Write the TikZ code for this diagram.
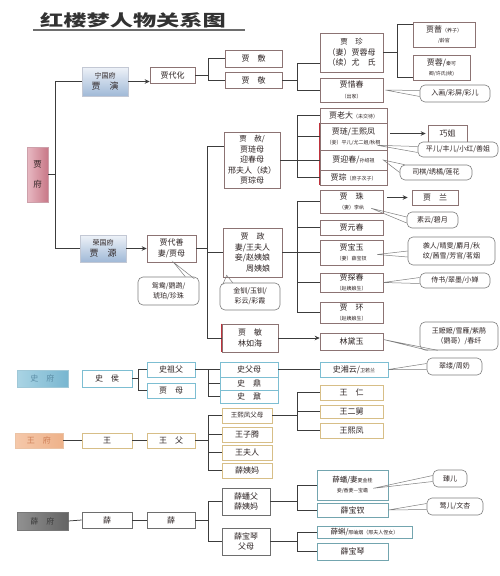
\documentclass[tikz,border=0pt]{standalone}
\usepackage{fontspec}
\setmainfont{Noto Sans CJK SC}
\usetikzlibrary{arrows.meta,calc,shadows}
\definecolor{ln}{RGB}{60,60,60}
\definecolor{jb}{RGB}{140,115,115}
\definecolor{sb}{RGB}{125,190,210}
\definecolor{wb}{RGB}{215,190,135}
\definecolor{xb}{RGB}{110,110,110}
\definecolor{xt}{RGB}{115,165,175}
\definecolor{cb}{RGB}{125,125,125}
\definecolor{tx}{RGB}{45,35,35}
\newcommand\BX[7]{\node[#6, minimum width={(#4)-(#2)}, minimum height={(#5)-(#3)}] (#1) at ({((#2)+(#4))/2},{((#3)+(#5))/2}) {#7};}
\newcommand\tinyt[1]{{\fontsize{5}{6}\selectfont #1}}
\tikzset{
  bx/.style={draw=jb, line width=0.6pt, fill=white, inner sep=0.5pt, align=center, text=tx, font=\fontsize{8}{10.5}\selectfont},
  sbox/.style={bx, draw=sb},
  wbox/.style={bx, draw=wb},
  xbox/.style={bx, draw=xb},
  tbox/.style={bx, draw=xt},
  fuN/.style={bx, draw={rgb,255:red,195;green,200;blue,212}, top color={rgb,255:red,238;green,242;blue,248}, bottom color={rgb,255:red,160;green,185;blue,215}, drop shadow={shadow xshift=1.2pt, shadow yshift=-1.2pt, fill=gray!45}},
  fuJ/.style={bx, draw={rgb,255:red,205;green,160;blue,170}, left color={rgb,255:red,232;green,185;blue,195}, middle color={rgb,255:red,246;green,226;blue,230}, right color={rgb,255:red,200;green,120;blue,135}, drop shadow={shadow xshift=1.2pt, shadow yshift=-1.2pt, fill=gray!45}},
  fuS/.style={bx, draw={rgb,255:red,160;green,200;blue,215}, left color={rgb,255:red,170;green,212;blue,228}, middle color={rgb,255:red,218;green,240;blue,247}, right color={rgb,255:red,120;green,182;blue,208}, text={rgb,255:red,90;green,140;blue,165}, drop shadow={shadow xshift=1pt, shadow yshift=-1pt, fill=gray!35}},
  fuW/.style={bx, draw={rgb,255:red,235;green,195;blue,165}, left color={rgb,255:red,245;green,200;blue,170}, middle color={rgb,255:red,253;green,236;blue,222}, right color={rgb,255:red,238;green,178;blue,138}, text={rgb,255:red,205;green,125;blue,85}, drop shadow={shadow xshift=1pt, shadow yshift=-1pt, fill=gray!35}},
  fuX/.style={bx, draw={rgb,255:red,120;green,120;blue,120}, left color={rgb,255:red,145;green,145;blue,145}, middle color={rgb,255:red,215;green,215;blue,215}, right color={rgb,255:red,100;green,100;blue,100}, text={rgb,255:red,60;green,60;blue,60}, drop shadow={shadow xshift=1pt, shadow yshift=-1pt, fill=gray!40}},
  callout/.style={draw=cb, line width=0.6pt, fill=white, rounded corners=5pt, inner sep=1pt, align=center, text=tx, font=\fontsize{7}{10}\selectfont},
  conn/.style={draw=ln, line width=0.75pt},
  arr/.style={conn, -{Stealth[length=5pt,width=4.5pt]}},
  tail/.style={draw=cb, line width=0.5pt},
  redge/.style={draw={rgb,255:red,190;green,50;blue,60}, line width=0.9pt}
}
\begin{document}
\begin{tikzpicture}[x=1pt,y=-1pt]
\fill[white] (0,0) rectangle (500,576);
\useasboundingbox (0,0) rectangle (500,576);

% title
\node[inner sep=0, text={rgb,255:red,50;green,50;blue,50}, font=\fontsize{16}{18}\selectfont\bfseries] (title) at (133,20) {\scalebox{1.45}[1]{红楼梦人物关系图}};
\coordinate (ul1) at (33,30);
\coordinate (ul2) at (245,30);
\draw[draw={rgb,255:red,110;green,110;blue,110}, line width=1.3pt] (ul1) -- (ul2);

% trunk coordinates
\coordinate (t1) at (55,0);
\coordinate (b1) at (208,0);
\coordinate (b2) at (297,0);
\coordinate (b3) at (397,0);
\coordinate (b4) at (207,0);
\coordinate (b7) at (138,0);

% ===== Jia =====
\BX{ng}{82}{67}{128}{96}{fuN}{{\fontsize{7}{10}\selectfont 宁国府}\\{\fontsize{9}{11}\selectfont 贾\quad 演}}
\BX{rg}{80}{235}{126}{262}{fuN}{{\fontsize{7}{10}\selectfont 荣国府}\\{\fontsize{9}{11}\selectfont 贾\quad 源}}
\BX{jf}{27}{147}{48}{202}{fuJ}{{\fontsize{8.5}{10}\selectfont 贾}\\[9pt]{\fontsize{8.5}{10}\selectfont 府}}

\BX{jdh}{150}{67}{195}{83}{bx}{贾代化}
\BX{jfu}{225}{50}{282}{67}{bx}{贾　敷}
\BX{jjing}{225}{72}{282}{88}{bx}{贾　敬}
\BX{jzhen}{320}{33}{383}{72}{bx}{\fontsize{7.5}{11.5}\selectfont 贾　珍\\（妻）贾蓉母\\（续）尤　氏}
\BX{jxc}{320}{78}{383}{102}{bx}{贾惜春\\\tinyt{（出家）}}
\BX{jqiang}{413}{22}{475}{47}{bx}{贾蔷\tinyt{（养子）}\\\tinyt{/龄官}}
\BX{jrong}{413}{55}{470}{80}{bx}{贾蓉/\tinyt{秦可}\\\tinyt{卿/许氏(续)}}

\BX{jds}{147}{235}{196}{262}{bx}{贾代善\\妻/贾母}
\BX{jshe}{224}{132}{280}{188}{bx}{\fontsize{7.5}{10.6}\selectfont 贾　赦/\\贾琏母\\迎春母\\邢夫人（续）\\贾琮母}
\BX{jld}{320}{108}{387}{123}{bx}{贾老大\tinyt{（未交待）}}
\BX{jlian}{320}{123}{387}{150}{bx}{贾琏/王熙凤\\\tinyt{（妾）平儿/尤二姐/秋桐}}
\BX{jyc}{320}{150}{387}{170}{bx}{贾迎春/\tinyt{孙绍祖}}
\BX{jcong}{320}{170}{387}{185}{bx}{贾琮\tinyt{（庶子次子）}}
\BX{qj}{428}{125}{467}{142}{bx}{巧姐}

\BX{jzheng}{223}{228}{282}{277}{bx}{\fontsize{8}{11}\selectfont 贾　政\\妻/王夫人\\妾/赵姨娘\\\hphantom{妾/}周姨娘}
\BX{jzhu}{320}{190}{383}{213}{bx}{贾　珠\\\tinyt{（妻）李纨}}
\BX{jlan}{412}{190}{458}{205}{bx}{贾　兰}
\BX{jyuan}{320}{220}{383}{235}{bx}{贾元春}
\BX{jbao}{320}{240}{383}{265}{bx}{贾宝玉\\\tinyt{（妻）薛宝钗}}
\BX{jtan}{320}{273}{383}{292}{bx}{贾探春\\\tinyt{（赵姨娘生）}}
\BX{jhuan}{320}{302}{383}{323}{bx}{贾　环\\\tinyt{（赵姨娘生）}}
\BX{jmin}{222}{324}{278}{352}{bx}{贾　敏\\林如海}
\BX{ldy}{320}{333}{383}{350}{bx}{林黛玉}

% red left edges
\draw[redge] (jlian.north west) -- (jcong.south west);
\draw[redge] (jmin.north west) -- (jmin.south west);

% Jia connectors
\draw[conn] (ng.west) -| (rg.west -| t1) -- (rg.west);
\draw[conn] (jf.east) -- (jf.east -| t1);
\draw[arr] (ng.east) -- (ng.east -| jdh.west);
\draw[arr] (rg.east) -- (jds.west);
\draw[conn] (jdh.east) -- (jdh.east -| b1);
\draw[conn] (jfu.west) -| (jjing.west -| b1) -- (jjing.west);
\draw[conn] (jjing.east) -- (jjing.east -| b2);
\draw[conn] ($(jzhen.south west)+(0,-9)$) -| (jxc.west -| b2) -- (jxc.west);
\draw[conn] (jzhen.east) -- (jzhen.east -| b3);
\draw[conn] ($(jqiang.north west)+(0,3)$) -| ($(jrong.south west -| b3)+(0,-3)$) -- ($(jrong.south west)+(0,-3)$);

\draw[conn] (jds.east) -- (jds.east -| b4);
\draw[conn] ($(jshe.north west)+(0,15)$) -| (jmin.west -| b4) -- (jmin.west);
\draw[conn] (jzheng.west) -- (jzheng.west -| b4);

\draw[conn] (jshe.east) -- (jshe.east -| b2);
\draw[conn] (jld.west) -| (jcong.west -| b2) -- (jcong.west);
\draw[conn] (jlian.west) -- (jlian.west -| b2);
\draw[conn] (jyc.west) -- (jyc.west -| b2);
\draw[arr] ($(jlian.east |- qj.west)+(3,0)$) -- ($(qj.west)+(-2,0)$);

\draw[conn] (jzheng.east) -- (jzheng.east -| b2);
\draw[conn] (jzhu.west) -| (jhuan.west -| b2) -- (jhuan.west);
\draw[conn] (jyuan.west) -- (jyuan.west -| b2);
\draw[conn] (jbao.west) -- (jbao.west -| b2);
\draw[conn] (jtan.west) -- (jtan.west -| b2);
\draw[arr] ($(jzhu.east |- jlan.west)+(4,0)$) -- ($(jlan.west)+(-4,0)$);
\draw[arr] (jmin.east) -- (jmin.east -| ldy.west);

% ===== Shi =====
\BX{sf}{17}{370}{68}{387}{fuS}{史　府}
\BX{shou}{82}{370}{132}{387}{sbox}{史　侯}
\BX{szf}{147}{362}{195}{377}{sbox}{史祖父}
\BX{jm}{147}{383}{195}{398}{sbox}{贾　母}
\BX{sfm}{220}{362}{278}{377}{sbox}{史父母}
\BX{sding}{220}{377}{278}{390}{sbox}{史　鼎}
\BX{snai}{220}{390}{278}{403}{sbox}{史　鼐}
\BX{sxy}{320}{362}{388}{377}{sbox}{史湘云/\tinyt{卫若兰}}

\draw[conn] (shou.east) -- (shou.east -| b7);
\draw[conn] (szf.west) -| (jm.west -| b7) -- (jm.west);
\draw[conn] (szf.east) -- (sfm.west);
\draw[conn] (szf.east -| b1) |- (snai.west);
\draw[conn] (sding.west) -- (sding.west -| b1);
\draw[conn] (sfm.east) -- (sxy.west);

% ===== Wang =====
\BX{wf}{15}{433}{63}{448}{fuW}{王　府}
\BX{wang}{82}{433}{132}{448}{wbox}{王}
\BX{wfu}{147}{433}{195}{448}{wbox}{王　父}
\BX{wxf}{222}{408}{272}{423}{wbox}{\fontsize{6.5}{8}\selectfont 王熙凤父母}
\BX{wzt}{222}{427}{272}{442}{wbox}{王子腾}
\BX{wfr}{222}{445}{272}{460}{wbox}{王夫人}
\BX{xym}{222}{463}{272}{478}{wbox}{薛姨妈}
\BX{wren}{320}{385}{383}{400}{wbox}{王　仁}
\BX{wej}{320}{405}{383}{418}{wbox}{王二舅}
\BX{wxfeng}{320}{423}{383}{438}{wbox}{王熙凤}

\draw[conn] (wf.east) -- (wang.west);
\draw[conn] (wang.east) -- (wfu.west);
\draw[conn] (wfu.east) -- (wfu.east -| b1);
\draw[conn] (wxf.west) -| (xym.west -| b1) -- (xym.west);
\draw[conn] (wzt.west) -- (wzt.west -| b1);
\draw[conn] (wfr.west) -- (wfr.west -| b1);
\draw[conn] (wxf.east) -- (wxf.east -| b2);
\draw[conn] (wren.west) -| (wxfeng.west -| b2) -- (wxfeng.west);
\draw[conn] (wej.west) -- (wej.west -| b2);

% ===== Xue =====
\BX{xf}{17}{512}{68}{530}{fuX}{薛　府}
\BX{xue1}{82}{512}{132}{528}{xbox}{薛}
\BX{xue2}{147}{512}{195}{528}{xbox}{薛}
\BX{xpf}{222}{488}{270}{515}{xbox}{薛蟠父\\薛姨妈}
\BX{xbqf}{222}{528}{270}{555}{xbox}{薛宝琴\\父母}
\BX{xpan}{317}{470}{388}{500}{tbox}{\fontsize{7.5}{11}\selectfont 薛蟠/妻\tinyt{夏金桂}\\\tinyt{妾/香菱—宝蟾}}
\BX{xbc}{317}{503}{388}{517}{tbox}{薛宝钗}
\BX{xke}{317}{526}{412}{538}{tbox}{\fontsize{7.5}{9}\selectfont 薛蝌/\tinyt{邢岫烟（邢夫人侄女）}}
\BX{xbq}{317}{543}{388}{560}{tbox}{薛宝琴}

\draw[conn] (xf.east) -- (xue1.west);
\draw[conn] (xue1.east) -- (xue2.west);
\draw[conn] (xue2.east) -- (xue2.east -| b1);
\draw[conn] (xpf.west) -| (xbqf.west -| b1) -- (xbqf.west);
\draw[conn] (xpf.east) -- (xpf.east -| b2);
\draw[conn] (xpan.west) -| (xbc.west -| b2) -- (xbc.west);
\draw[conn] (xbqf.east) -- (xbqf.east -| b2);
\draw[conn] (xke.west) -| (xbq.west -| b2) -- (xbq.west);

% ===== callouts =====
\BX{c1}{420}{85}{490}{102}{callout}{入画/彩屏/彩儿}
\BX{c2}{418}{142}{498}{157}{callout}{平儿/丰儿/小红/善姐}
\BX{c3}{400}{165}{472}{180}{callout}{司棋/绣橘/莲花}
\BX{c5}{138}{277}{199}{305}{callout}{鸳鸯/鹦鹉/\\琥珀/珍珠}
\BX{c6}{220}{283}{280}{310}{callout}{金钏/玉钏/\\彩云/彩霞}
\BX{c7}{407}{212}{458}{228}{callout}{素云/碧月}
\BX{c8}{408}{237}{495}{265}{callout}{袭人/晴雯/麝月/秋\\纹/茜雪/芳官/茗烟}
\BX{c9}{420}{273}{490}{288}{callout}{侍书/翠墨/小婵}
\BX{c10}{420}{322}{498}{350}{callout}{王嬷嬷/雪雁/紫鹃\\（鹦哥）/春纤}
\BX{c11}{427}{358}{482}{375}{callout}{翠缕/周奶}
\BX{c12}{433}{470}{467}{487}{callout}{臻儿}
\BX{c13}{427}{498}{483}{515}{callout}{莺儿/文杏}

% tails
\draw[tail] ($(c1.west)+(0,-3)$) -- ($(jxc.east)+(2,0)$) -- ($(c1.west)+(0,3)$);
\draw[tail] ($(c2.west)+(0,-3)$) -- ($(jlian.south east)+(-10,-5)$) -- ($(c2.west)+(0,3)$);
\draw[tail] ($(c3.north west)+(5,0)$) -- ($(jyc.east)+(-4,0)$) -- (c3.west);
\draw[tail] ($(c5.north east)+(-14,0)$) -- ($(jds.south)+(2,0)$) -- ($(c5.north east)+(-5,2)$);
\draw[tail] ($(c6.north west)+(3,2)$) -- ($(jzheng.south west)+(4,-2)$) -- ($(c6.north west)+(13,0)$);
\draw[tail] ($(c7.west)+(0,-3)$) -- ($(jzhu.south east)+(-12,-5)$) -- ($(c7.west)+(0,3)$);
\draw[tail] ($(c8.west)+(0,0)$) -- ($(jbao.east)+(-6,2)$) -- ($(c8.west)+(0,6)$);
\draw[tail] ($(c9.west)+(0,-3)$) -- (jtan.east) -- ($(c9.west)+(0,3)$);
\draw[tail] ($(c10.south west)+(8,0)$) -- ($(ldy.east)+(0,-2)$) -- ($(c10.south west)+(18,0)$);
\draw[tail] ($(c11.west)+(0,-3)$) -- (sxy.east) -- ($(c11.west)+(0,3)$);
\draw[tail] ($(c12.west)+(0,-3)$) -- ($(xpan.south east)+(-15,-12)$) -- ($(c12.west)+(0,3)$);
\draw[tail] ($(c13.west)+(0,-3)$) -- (xbc.east) -- ($(c13.west)+(0,3)$);
\end{tikzpicture}
\end{document}
